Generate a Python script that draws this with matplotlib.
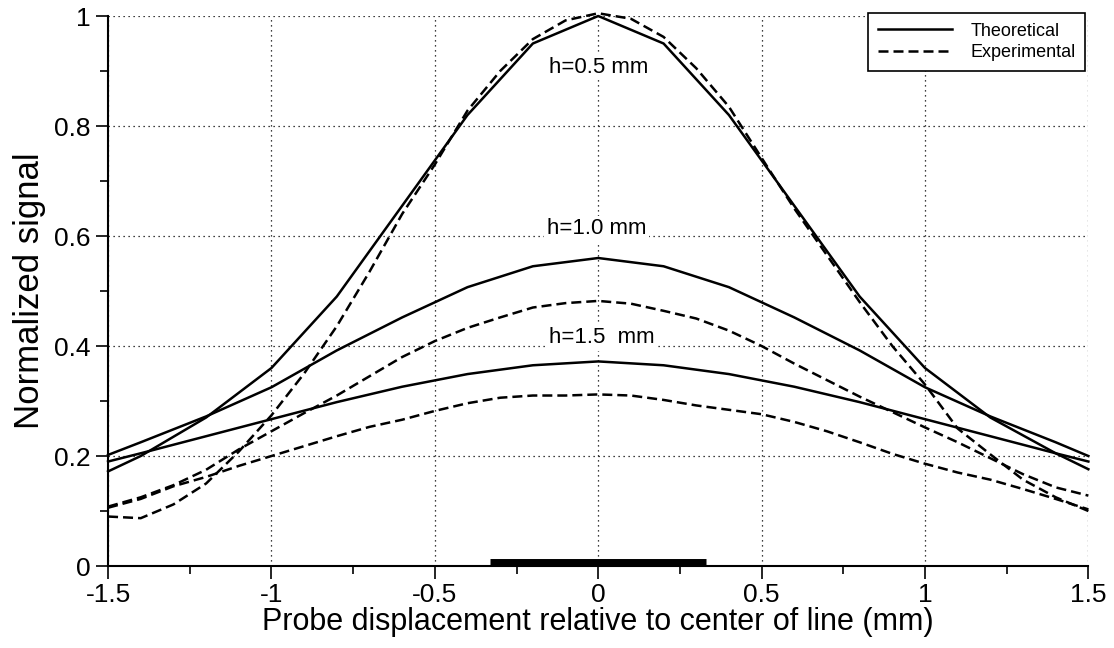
import matplotlib
matplotlib.use('Agg')
import matplotlib.pyplot as plt
from matplotlib.ticker import MultipleLocator, FuncFormatter

plt.rcParams['font.family'] = ['Liberation Sans', 'DejaVu Sans']

# theoretical curves (piecewise linear, 0.2 mm steps plus the ends)
x_theo = [-1.5, -1.4, -1.2, -1.0, -0.8, -0.6, -0.4, -0.2, 0.0,
          0.2, 0.4, 0.6, 0.8, 1.0, 1.2, 1.4, 1.5]
theo_h05 = [0.172, 0.200, 0.270, 0.360, 0.490, 0.655, 0.820, 0.950, 1.000,
            0.950, 0.820, 0.655, 0.490, 0.360, 0.270, 0.205, 0.176]
theo_h10 = [0.202, 0.225, 0.272, 0.325, 0.392, 0.452, 0.507, 0.545, 0.560,
            0.545, 0.507, 0.452, 0.392, 0.325, 0.272, 0.225, 0.200]
theo_h15 = [0.190, 0.205, 0.236, 0.267, 0.298, 0.326, 0.349, 0.365, 0.372,
            0.365, 0.349, 0.326, 0.298, 0.267, 0.236, 0.205, 0.190]

# experimental curves, 0.1 mm steps
x_exp = [-1.5, -1.4, -1.3, -1.2, -1.1, -1.0, -0.9, -0.8, -0.7, -0.6, -0.5,
         -0.4, -0.3, -0.2, -0.1, 0.0, 0.1, 0.2, 0.3, 0.4, 0.5,
         0.6, 0.7, 0.8, 0.9, 1.0, 1.1, 1.2, 1.3, 1.4, 1.5]
exp_h05 = [0.090, 0.087, 0.112, 0.150, 0.208, 0.274, 0.350, 0.436, 0.535, 0.640, 0.730,
           0.828, 0.900, 0.958, 0.992, 1.005, 0.995, 0.962, 0.905, 0.835, 0.742,
           0.650, 0.565, 0.480, 0.400, 0.330, 0.250, 0.203, 0.157, 0.125, 0.100]
exp_h10 = [0.108, 0.125, 0.147, 0.175, 0.212, 0.245, 0.278, 0.310, 0.345, 0.380, 0.409,
           0.433, 0.452, 0.470, 0.478, 0.482, 0.477, 0.464, 0.450, 0.428, 0.400,
           0.368, 0.338, 0.308, 0.280, 0.252, 0.225, 0.196, 0.167, 0.143, 0.128]
exp_h15 = [0.106, 0.122, 0.145, 0.162, 0.182, 0.200, 0.218, 0.236, 0.253, 0.266, 0.282,
           0.296, 0.306, 0.310, 0.310, 0.312, 0.310, 0.302, 0.292, 0.284, 0.276,
           0.262, 0.245, 0.225, 0.204, 0.186, 0.170, 0.157, 0.140, 0.122, 0.103]

# line width bar on the x axis (mm)
bar_x = [-0.33, 0.33]

labels = ['h=0.5 mm', 'h=1.0 mm', 'h=1.5  mm']
label_x = [0.0, -0.005, 0.01]
label_y = [0.907, 0.613, 0.415]

fig = plt.figure(figsize=(11.14, 6.48), dpi=100)
ax = fig.add_axes([0.097, 0.1265, 0.88, 0.8488])

lw = 1.8
dash = (0, (4, 2))
ax.plot(x_theo, theo_h05, color='black', lw=lw, label='Theoretical', clip_on=False)
ax.plot(x_exp, exp_h05, color='black', lw=lw, linestyle=dash, label='Experimental', clip_on=False)
ax.plot(x_theo, theo_h10, color='black', lw=lw, clip_on=False)
ax.plot(x_exp, exp_h10, color='black', lw=lw, linestyle=dash, clip_on=False)
ax.plot(x_theo, theo_h15, color='black', lw=lw, clip_on=False)
ax.plot(x_exp, exp_h15, color='black', lw=lw, linestyle=dash, clip_on=False)

ax.plot(bar_x, [0.0075, 0.0075], color='black', lw=5, solid_capstyle='butt',
        clip_on=False, zorder=5)

for txt, tx, ty in zip(labels, label_x, label_y):
    ax.text(tx, ty, txt, ha='center', va='center', fontsize=16,
            bbox=dict(facecolor='white', edgecolor='none', pad=2), zorder=4)

ax.set_xlim(-1.5, 1.5)
ax.set_ylim(0, 1)
ax.xaxis.set_major_locator(MultipleLocator(0.5))
ax.xaxis.set_minor_locator(MultipleLocator(0.25))
ax.yaxis.set_major_locator(MultipleLocator(0.2))
ax.yaxis.set_minor_locator(MultipleLocator(0.1))
fmt = FuncFormatter(lambda v, p: '%g' % round(v, 2))
ax.xaxis.set_major_formatter(fmt)
ax.yaxis.set_major_formatter(fmt)
ax.tick_params(which='major', direction='out', length=9, width=1.2, labelsize=19, color='black')
ax.tick_params(which='minor', direction='out', length=5.5, width=1.2)

ax.grid(True, which='major', color='black', linestyle=(0, (1, 3)), lw=0.9)
ax.spines['top'].set_visible(False)
ax.spines['right'].set_visible(False)
ax.spines['left'].set_linewidth(1.5)
ax.spines['bottom'].set_linewidth(1.5)

ax.set_xlabel('Probe displacement relative to center of line (mm)', fontsize=22, labelpad=0)
ax.set_ylabel('Normalized signal', fontsize=25, labelpad=6)

leg = ax.legend(loc='upper right', bbox_to_anchor=(0.997, 1.006), borderaxespad=0,
                fontsize=13, handlelength=4.1, handletextpad=1.0, labelspacing=0.25,
                borderpad=0.55, fancybox=False, framealpha=1)
leg.get_frame().set_edgecolor('black')
leg.get_frame().set_linewidth(1.2)

fig.savefig('out.png', dpi=100)
plt.close()
